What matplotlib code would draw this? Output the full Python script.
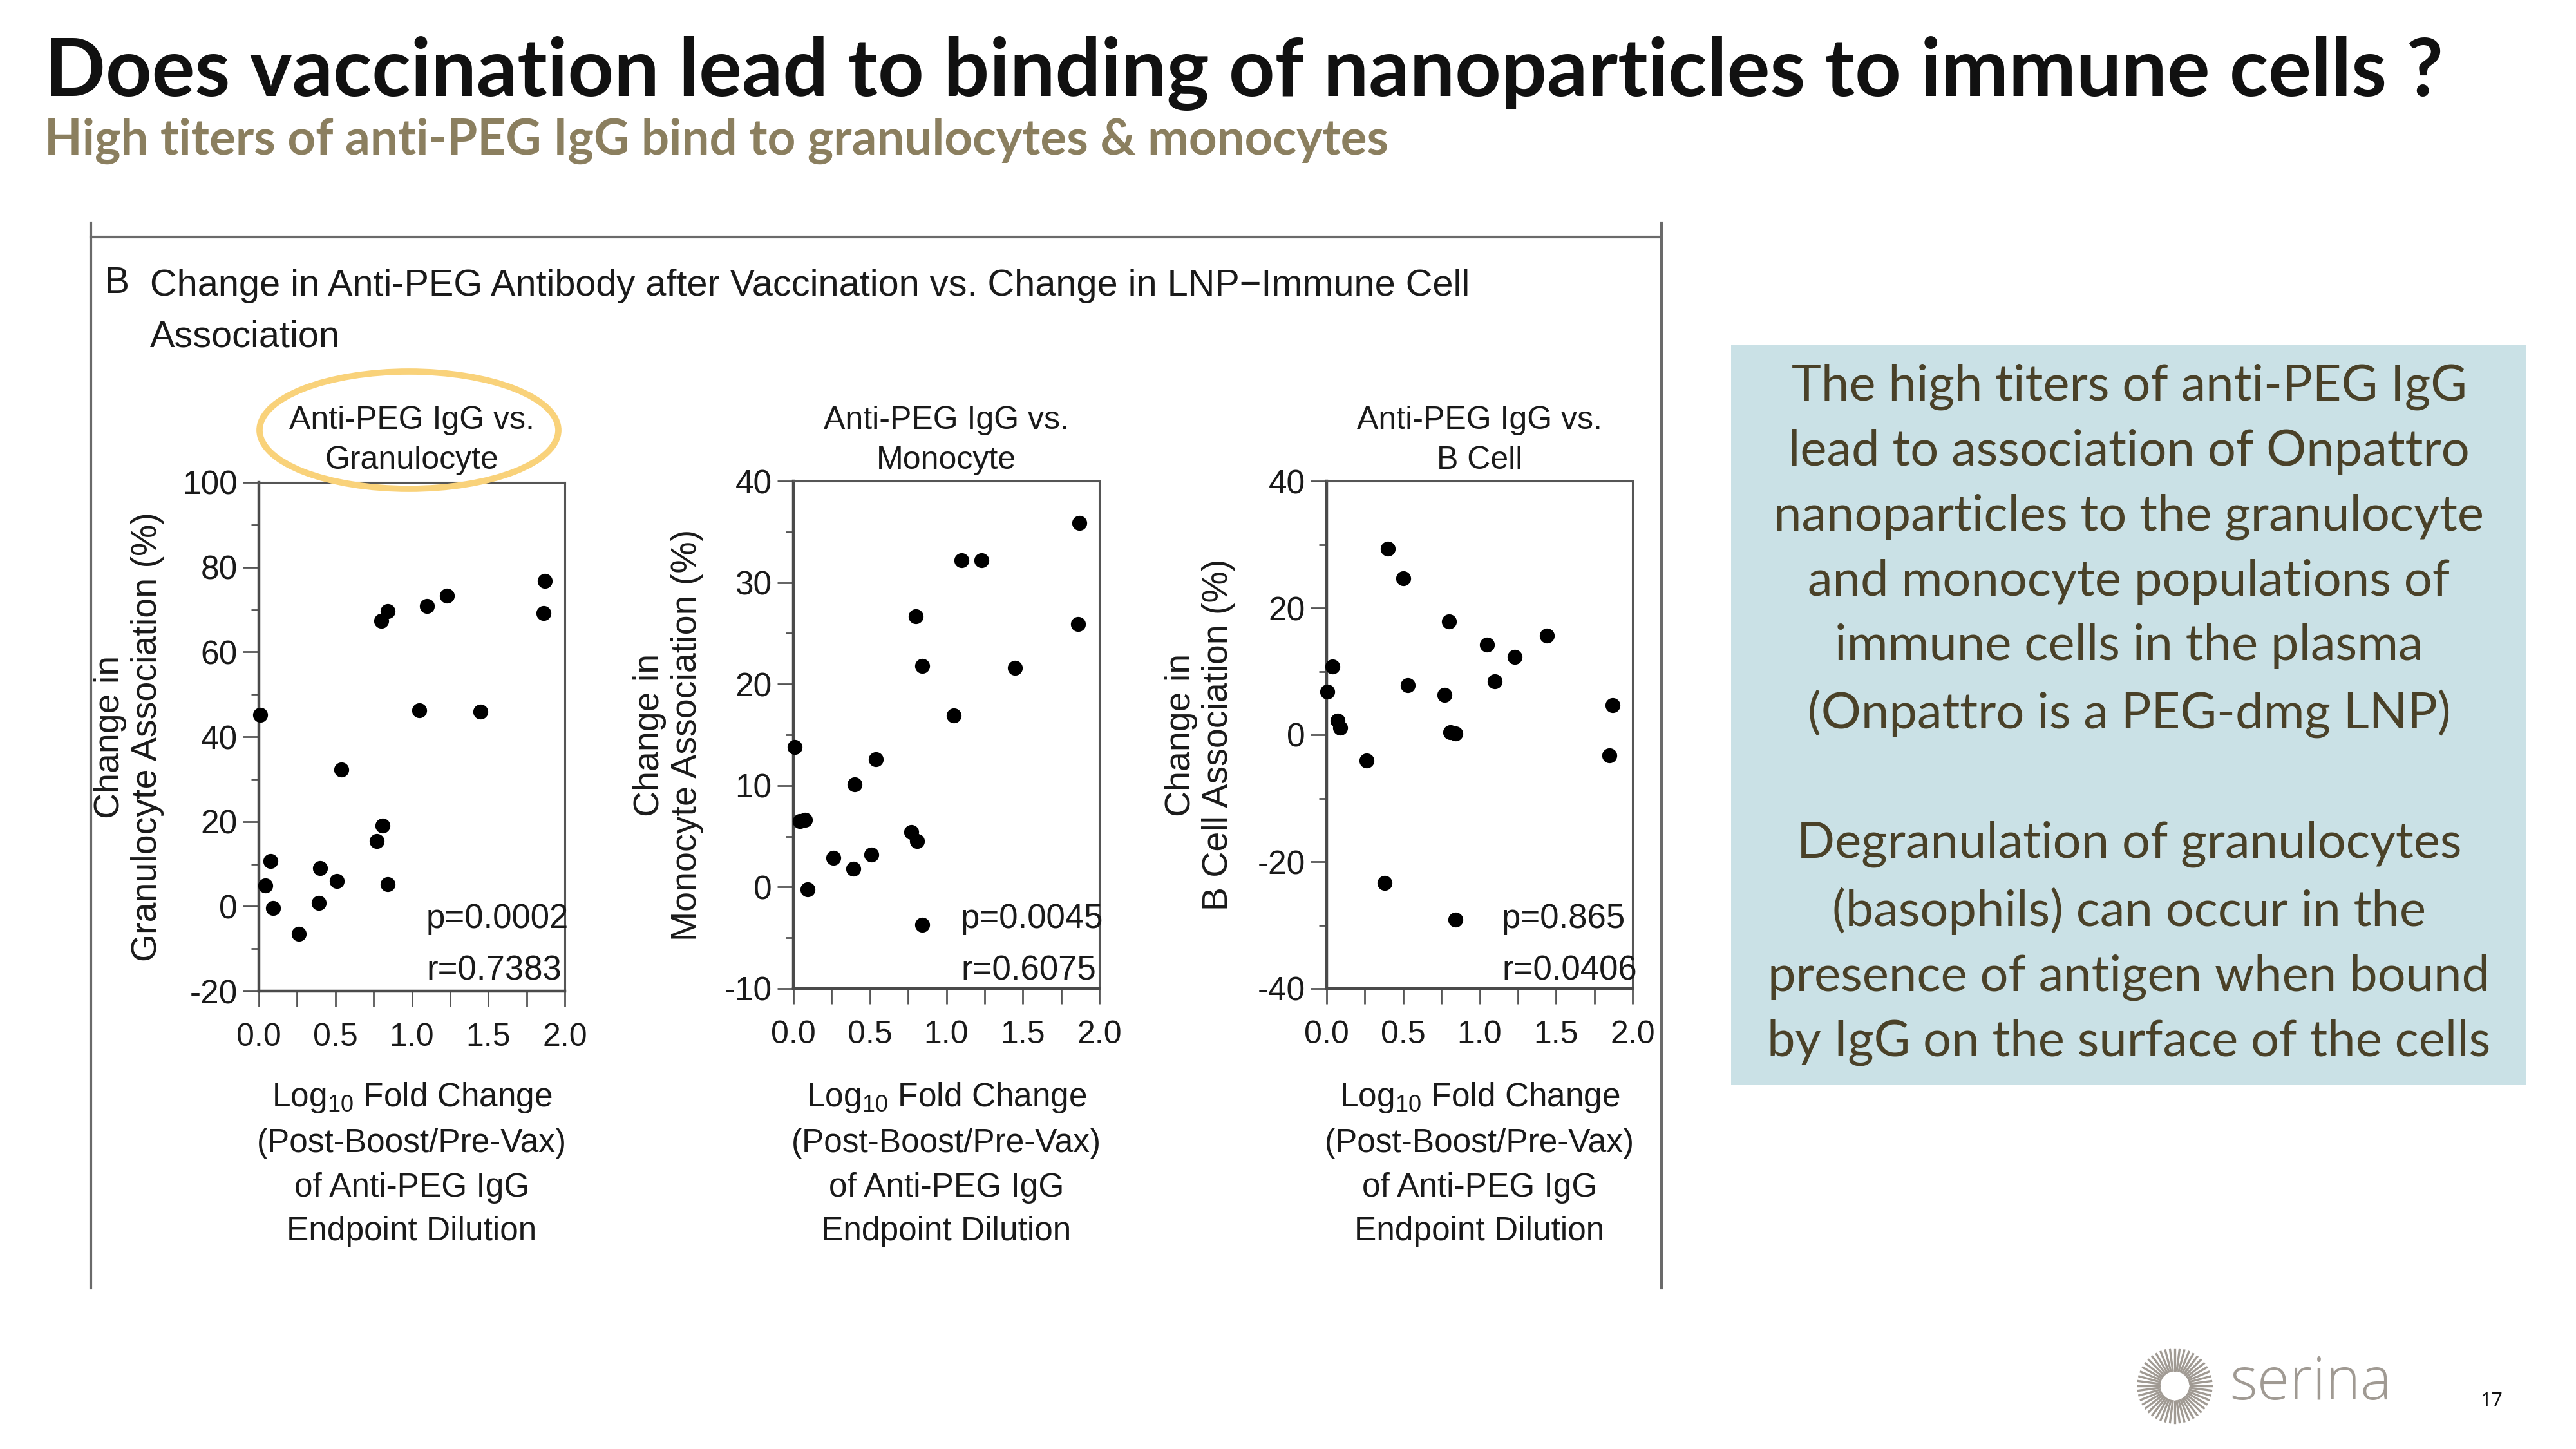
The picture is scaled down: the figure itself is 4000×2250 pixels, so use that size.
import numpy as np
import matplotlib
matplotlib.use("Agg")
import matplotlib.pyplot as plt
from matplotlib.patches import Ellipse, Rectangle
from matplotlib.lines import Line2D
from matplotlib.ticker import MultipleLocator, FormatStrFormatter

# --- values (x = log10 fold change, y = change in association %) ---
gran_x = [0.01, 0.04, 0.076, 0.093, 0.26, 0.39, 0.40, 0.51, 0.54, 0.77,
          0.81, 0.84, 0.80, 0.84, 1.10, 1.23, 1.05, 1.45, 1.87, 1.86]
gran_y = [45.2, 4.9, 10.7, -0.4, -6.5, 0.8, 9.0, 6.0, 32.2, 15.4,
          19.0, 5.2, 67.4, 69.6, 70.8, 73.3, 46.3, 46.0, 76.7, 69.1]

mono_x = [0.01, 0.04, 0.076, 0.093, 0.26, 0.39, 0.40, 0.51, 0.54, 0.77,
          0.81, 0.84, 0.80, 0.84, 1.10, 1.23, 1.05, 1.45, 1.87, 1.86]
mono_y = [13.8, 6.5, 6.6, -0.2, 2.9, 1.8, 10.1, 3.2, 12.6, 5.4,
          4.5, -3.7, 26.7, 21.8, 32.2, 32.2, 16.9, 21.6, 35.9, 25.9]

bcell_x = [0.004, 0.037, 0.07, 0.09, 0.26, 0.38, 0.40, 0.50, 0.53, 0.77,
           0.80, 0.81, 0.84, 0.84, 1.05, 1.10, 1.23, 1.44, 1.87, 1.85]
bcell_y = [6.8, 10.8, 2.2, 1.1, -4.1, -23.3, 29.3, 24.7, 7.8, 6.3,
           17.9, 0.4, 0.2, -29.1, 14.2, 8.4, 12.3, 15.6, 4.7, -3.2]

panel_titles = ["Anti-PEG IgG vs.\nGranulocyte", "Anti-PEG IgG vs.\nMonocyte", "Anti-PEG IgG vs.\nB Cell"]
panel_ylabels = ["Change in\nGranulocyte Association (%)",
                 "Change in\nMonocyte Association (%)",
                 "Change in\nB Cell Association (%)"]
p_values = ["p=0.0002", "p=0.0045", "p=0.865"]
r_values = ["r=0.7383", "r=0.6075", "r=0.0406"]
y_limits = [(-20, 100), (-10, 40), (-40, 40)]
y_major = [20, 10, 20]
y_minor = [10, 5, 10]

xlabel_text = ("Log$_{\\mathregular{10}}$ Fold Change\n(Post-Boost/Pre-Vax)\n"
               "of Anti-PEG IgG\nEndpoint Dilution")

title = "Does vaccination lead to binding of nanoparticles to immune cells ?"
subtitle = "High titers of anti-PEG IgG bind to granulocytes & monocytes"
header = "Change in Anti-PEG Antibody after Vaccination vs. Change in LNP\u2212Immune Cell\nAssociation"
box_text = ("The high titers of anti-PEG IgG\nlead to association of Onpattro\n"
            "nanoparticles to the granulocyte\nand monocyte populations of\n"
            "immune cells in the plasma\n(Onpattro is a PEG-dmg LNP)\n\n"
            "Degranulation of granulocytes\n(basophils) can occur in the\n"
            "presence of antigen when bound\nby IgG on the surface of the cells")

W, H = 4000, 2250
plt.rcParams['font.family'] = ['Liberation Sans', 'DejaVu Sans']
plt.rcParams['axes.unicode_minus'] = False
plt.rcParams['mathtext.fontset'] = 'custom'
plt.rcParams['mathtext.rm'] = 'Liberation Sans'

fig = plt.figure(figsize=(40, 22.5), dpi=100)
fig.patch.set_facecolor('white')


def fx(px):
    return px / W


def fy(py):
    return 1 - py / H


def line_px(x0, y0, x1, y1, **kw):
    fig.add_artist(Line2D([fx(x0), fx(x1)], [fy(y0), fy(y1)], transform=fig.transFigure, **kw))


# slide title and subtitle
fig.text(fx(69), fy(149), title, fontsize=90, fontweight='bold', family='Lato',
         color='#111111', ha='left', va='baseline')
fig.text(fx(69), fy(240), subtitle, fontsize=55, fontweight='bold', family='Lato',
         color='#8B7F5F', ha='left', va='baseline')

# frame of the pasted figure
frame_c = '#6a6a6a'
line_px(141, 346, 141, 2000, color=frame_c, lw=3)
line_px(2580, 346, 2580, 2000, color=frame_c, lw=3)
line_px(141, 368, 2580, 368, color=frame_c, lw=3)

fig.text(fx(162), fy(440), "B", fontsize=41, color='#1a1a1a', ha='left', va='center')
fig.text(fx(233), fy(484), header, fontsize=41.5, color='#1a1a1a', ha='left', va='center',
         linespacing=1.6)

# panels: (left, top, right, bottom) in pixels
boxes = [(402, 749, 877, 1539), (1232, 747, 1707, 1535), (2060, 747, 2535, 1535)]
ylabel_x = [200, 1038, 1863]
stat_x = [662, 1492, 2332]
xs = [gran_x, mono_x, bcell_x]
ys = [gran_y, mono_y, bcell_y]

for i, (l, t, r, b) in enumerate(boxes):
    ax = fig.add_axes([fx(l), fy(b), fx(r) - fx(l), fy(t) - fy(b)])
    ax.scatter(xs[i], ys[i], s=280, color='black', zorder=5, clip_on=False, linewidths=0)
    ax.set_xlim(0, 2)
    ax.set_ylim(*y_limits[i])
    ax.xaxis.set_major_locator(MultipleLocator(0.5))
    ax.xaxis.set_minor_locator(MultipleLocator(0.25))
    ax.xaxis.set_major_formatter(FormatStrFormatter('%.1f'))
    ax.yaxis.set_major_locator(MultipleLocator(y_major[i]))
    ax.yaxis.set_minor_locator(MultipleLocator(y_minor[i]))
    for side in ['left', 'bottom']:
        ax.spines[side].set_linewidth(3.2)
        ax.spines[side].set_color('#4a4a4a')
    for side in ['top', 'right']:
        ax.spines[side].set_linewidth(2.2)
        ax.spines[side].set_color('#555555')
    ax.tick_params(axis='y', which='major', length=18, width=2, color='#555555',
                   labelsize=37, pad=6, labelcolor='#1a1a1a')
    ax.tick_params(axis='y', which='minor', length=9, width=2, color='#555555')
    ax.tick_params(axis='x', which='both', length=17, width=2, color='#555555',
                   labelsize=36, pad=18, labelcolor='#1a1a1a')
    ax.text(0.5, 1.0 + (t - 684) / (b - t), panel_titles[i], transform=ax.transAxes,
            fontsize=36, ha='center', va='center', linespacing=1.45, color='#1a1a1a')
    fig.text(fx(ylabel_x[i]), fy((t + b) / 2), panel_ylabels[i], rotation=90, fontsize=40,
             ha='center', va='center', linespacing=1.15, color='#1a1a1a')
    fig.text(fx((l + r) / 2), fy(1678), xlabel_text, fontsize=37, ha='center', va='top',
             linespacing=1.52, color='#1a1a1a')
    fig.text(fx(stat_x[i]), fy(1427), p_values[i], fontsize=38, ha='left', va='center', color='#1a1a1a')
    fig.text(fx(stat_x[i]), fy(1507), r_values[i], fontsize=38, ha='left', va='center', color='#1a1a1a')

# highlight ring around the granulocyte title
fig.add_artist(Ellipse((fx(635), fy(668)), fx(464), 182 / H, transform=fig.transFigure,
                       fill=False, edgecolor='#F9D27A', lw=7))

# commentary box on the right
fig.add_artist(Rectangle((fx(2688), fy(1685)), fx(3922 - 2688), (1685 - 535) / H,
                         transform=fig.transFigure, facecolor='#CAE1E6', edgecolor='none'))
fig.text(fx(3306), fy(1110), box_text, fontsize=56, family='Lato', color='#4A4128',
         ha='center', va='center', linespacing=1.51)

# serina logo and page number
cx, cy = 3377, 2152
for a in np.linspace(0, 2 * np.pi, 48, endpoint=False):
    line_px(cx + 24 * np.cos(a), cy + 24 * np.sin(a), cx + 57 * np.cos(a), cy + 57 * np.sin(a),
            color='#A09A93', lw=2.4)
fig.text(fx(3462), fy(2173), "serina", fontsize=66, family='Open Sans', fontweight='light',
         color='#A09A93', ha='left', va='baseline')
fig.text(fx(3869), fy(2176), "17", fontsize=22, family='Open Sans', color='#111111',
         ha='center', va='center')

fig.savefig("out.png", dpi=100)
